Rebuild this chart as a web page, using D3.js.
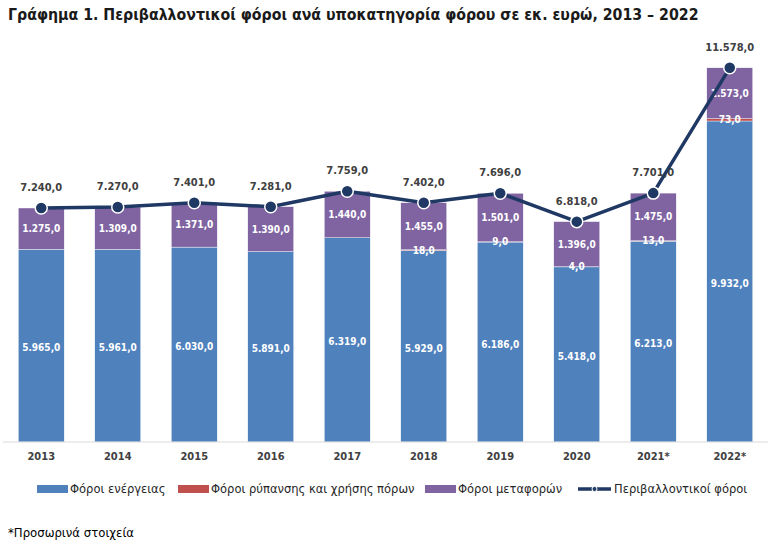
<!DOCTYPE html>
<html><head><meta charset="utf-8">
<script src="https://cdn.jsdelivr.net/npm/d3@7"></script>
<style>
body{margin:0;background:#fff;}
text{font-family:"Liberation Sans Narrow","DejaVu Sans Condensed",sans-serif;}
</style></head>
<body><svg id="chart" width="771" height="548"></svg>
<script>
const years = ["2013","2014","2015","2016","2017","2018","2019","2020","2021*","2022*"];
const energy = [5965,5961,6030,5891,6319,5929,6186,5418,6213,9932];
const pollution = [0,0,0,0,0,18,9,4,13,73];
const transport = [1275,1309,1371,1390,1440,1455,1501,1396,1475,1573];
const totals = [7240,7270,7401,7281,7759,7402,7696,6818,7701,11578];
const seriesNames = ["Φόροι ενέργειας","Φόροι ρύπανσης και χρήσης πόρων","Φόροι μεταφορών","Περιβαλλοντικοί φόροι"];
const colors = ["#4F81BD","#C0504D","#8064A2","#1F3864"];

const svg = d3.select("#chart");
const fmt = v => {
  const s = d3.format(",.1f")(v);
  return s.replace(/,/g,"#").replace(".",",").replace(/#/g,".");
};

svg.append("text").attr("x",8).attr("y",20)
  .attr("font-size",15.75).attr("font-weight","bold").attr("fill","#1a1a1a")
  .text("Γράφημα 1. Περιβαλλοντικοί φόροι ανά υποκατηγορία φόρου σε εκ. ευρώ, 2013 – 2022");

const x = d3.scaleBand().domain(years).range([3,768]).paddingInner(0.4).paddingOuter(0.2);
const y = d3.scaleLinear().domain([0,12000]).range([442,442-12000*0.03232]);

const rows = years.map((yr,i)=>({year:yr,energy:energy[i],pollution:pollution[i],transport:transport[i]}));
const keys = ["energy","pollution","transport"];
const stack = d3.stack().keys(keys)(rows);

const g = svg.append("g");
stack.forEach((layer,li)=>{
  g.selectAll(null).data(layer).join("rect")
    .attr("x",d=>x(d.data.year))
    .attr("width",x.bandwidth())
    .attr("y",d=>y(d[1]))
    .attr("height",d=>y(d[0])-y(d[1]))
    .attr("fill",colors[li])
    .attr("stroke","#fff").attr("stroke-width",0.4);
});

// axis line
svg.append("line").attr("x1",3).attr("x2",768).attr("y1",y(0)).attr("y2",y(0))
  .attr("stroke","#d9d9d9").attr("stroke-width",1);

// x axis labels
const xAxis = d3.axisBottom(x).tickSize(0).tickPadding(10);
const ax = svg.append("g").attr("transform",`translate(0,${y(0)})`).call(xAxis);
ax.select(".domain").remove();
ax.selectAll("text").attr("font-size",11).attr("font-weight","bold").attr("fill","#404040")
  .style("font-family",'"Liberation Sans Narrow","DejaVu Sans Condensed",sans-serif');

// segment labels
stack.forEach((layer,li)=>{
  g.selectAll(null).data(layer.filter(d=>d[1]-d[0]>0)).join("text")
    .attr("x",d=>x(d.data.year)+x.bandwidth()/2)
    .attr("y",d=>(y(d[0])+y(d[1]))/2 + (li===0?2:0))
    .attr("dy","0.35em")
    .attr("text-anchor","middle")
    .attr("font-size",10).attr("font-weight","bold").attr("fill","#fff")
    .text(d=>fmt(d[1]-d[0]));
});

// line
const cx = (d,i)=>x(years[i])+x.bandwidth()/2;
const line = d3.line().x((d,i)=>cx(d,i)).y(d=>y(d));
svg.append("path").datum(totals).attr("d",line)
  .attr("fill","none").attr("stroke",colors[3]).attr("stroke-width",3.5).attr("stroke-linejoin","round");
svg.selectAll(".pt").data(totals).join("circle")
  .attr("cx",cx).attr("cy",d=>y(d)).attr("r",6)
  .attr("fill",colors[3]).attr("stroke","#fff").attr("stroke-width",1.5);
svg.selectAll(".tl").data(totals).join("text")
  .attr("x",cx).attr("y",d=>y(d)-17)
  .attr("text-anchor","middle").attr("font-size",11).attr("font-weight","bold").attr("fill","#404040")
  .text(d=>fmt(d));

// legend
const legX = [37,178,425,578];
const leg = svg.append("g").attr("transform","translate(0,489)");
seriesNames.forEach((n,i)=>{
  const gg = leg.append("g").attr("transform",`translate(${legX[i]},0)`);
  if(i<3){
    gg.append("rect").attr("x",0).attr("y",-4).attr("width",31).attr("height",8).attr("fill",colors[i]);
  } else {
    gg.append("line").attr("x1",0).attr("x2",33).attr("y1",0).attr("y2",0).attr("stroke",colors[3]).attr("stroke-width",3.5);
    gg.append("circle").attr("cx",16.5).attr("cy",0).attr("r",2.5).attr("fill",colors[3]).attr("stroke","#fff").attr("stroke-width",1);
  }
  gg.append("text").attr("x",i<3?33:36).attr("y",0).attr("dy","0.35em")
    .attr("font-size",12.8).attr("fill","#262626").text(n);
});

svg.append("text").attr("x",8).attr("y",537).attr("font-size",13).attr("fill","#000")
  .text("*Προσωρινά στοιχεία");
</script></body></html>
